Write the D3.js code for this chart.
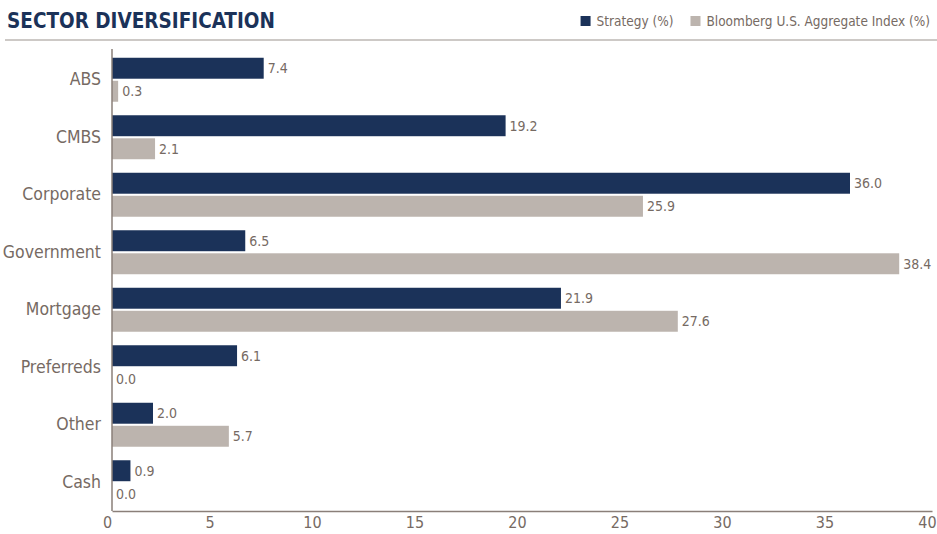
<!DOCTYPE html>
<html>
<head>
<meta charset="utf-8">
<script src="https://cdn.jsdelivr.net/npm/d3@7"></script>
<style>
  body { margin: 0; background: #fff; }
  svg { display: block; font-family: "DejaVu Sans Condensed", "Liberation Sans Narrow", sans-serif; }
</style>
</head>
<body>
<svg id="chart" width="937" height="534"></svg>
<script>
var categories = ["ABS", "CMBS", "Corporate", "Government", "Mortgage", "Preferreds", "Other", "Cash"]
var strategy = [7.4, 19.2, 36.0, 6.5, 21.9, 6.1, 2.0, 0.9]
var aggregate = [0.3, 2.1, 25.9, 38.4, 27.6, 0.0, 5.7, 0.0]
var seriesNames = ["Strategy (%)", "Bloomberg U.S. Aggregate Index (%)"]
var xTicks = [0, 5, 10, 15, 20, 25, 30, 35, 40]

var navy = "#1b3259"
var grey = "#bcb4ae"
var textColor = "#766a63"

var svg = d3.select("#chart")

var rows = categories.map(function(c, i) {
    return { cat: c, values: [strategy[i], aggregate[i]] }
})

// header
svg.append("text")
    .attr("x", 7).attr("y", 28)
    .attr("fill", navy)
    .attr("font-size", 20.5).attr("font-weight", "bold")
    .text("SECTOR DIVERSIFICATION")

svg.append("line")
    .attr("x1", 5).attr("x2", 937)
    .attr("y1", 40).attr("y2", 40)
    .attr("stroke", "#bdb7b3").attr("stroke-width", 1.5)

// legend, laid out then pushed so it ends at x=930
var legend = svg.append("g")
var lx = 0
seriesNames.forEach(function(name, i) {
    legend.append("rect")
        .attr("x", lx).attr("y", 16)
        .attr("width", 10).attr("height", 10)
        .attr("fill", i === 0 ? navy : grey)
    var t = legend.append("text")
        .attr("x", lx + 16).attr("y", 26)
        .attr("fill", textColor).attr("font-size", 13.5)
        .text(name)
    lx += 16 + t.node().getComputedTextLength() + (i === 0 ? 17 : 0)
})
legend.attr("transform", "translate(" + (930 - lx) + ",0)")

var x = d3.scaleLinear().domain([0, 40]).range([112, 932])
var y = d3.scaleBand().domain(categories).range([51, 511])
    .paddingInner(0.235).paddingOuter(0.1175)
var y1 = d3.scaleBand().domain([0, 1]).range([0, y.bandwidth()]).paddingInner(0.09)

var groups = svg.selectAll("g.row")
    .data(rows).enter().append("g")
    .attr("class", "row")
    .attr("transform", function(d) { return "translate(0," + y(d.cat) + ")" })

groups.selectAll("rect")
    .data(function(d) { return d.values }).enter().append("rect")
    .attr("x", x(0))
    .attr("y", function(d, i) { return y1(i) })
    .attr("width", function(d) { return x(d) - x(0) })
    .attr("height", y1.bandwidth())
    .attr("fill", function(d, i) { return i === 0 ? navy : grey })

groups.selectAll("text.val")
    .data(function(d) { return d.values }).enter().append("text")
    .attr("class", "val")
    .attr("x", function(d) { return x(d) + 4 })
    .attr("y", function(d, i) { return y1(i) + y1.bandwidth() / 2 })
    .attr("dy", "0.35em")
    .attr("fill", textColor).attr("font-size", 14)
    .text(function(d) { return d.toFixed(1) })

// y axis
var yAxis = svg.append("g")
    .attr("transform", "translate(112,0)")
    .call(d3.axisLeft(y).tickSize(0).tickPadding(11))
yAxis.select(".domain").attr("stroke", "#8a7f79").attr("stroke-width", 1.5)
    .attr("d", "M0,49V511")
yAxis.selectAll("text").attr("fill", textColor).attr("font-size", 17.5)
    .attr("font-family", "DejaVu Sans Condensed, sans-serif")

// x axis
var xAxis = svg.append("g")
    .attr("transform", "translate(0,511)")
    .call(d3.axisBottom(x).tickValues(xTicks).tickSize(0).tickPadding(6))
xAxis.select(".domain").attr("stroke", "#8a7f79").attr("stroke-width", 1.5)
xAxis.selectAll("text").attr("fill", textColor).attr("font-size", 16)
    .attr("font-family", "DejaVu Sans Condensed, sans-serif")
    .attr("dx", -5)
</script>
</body>
</html>
